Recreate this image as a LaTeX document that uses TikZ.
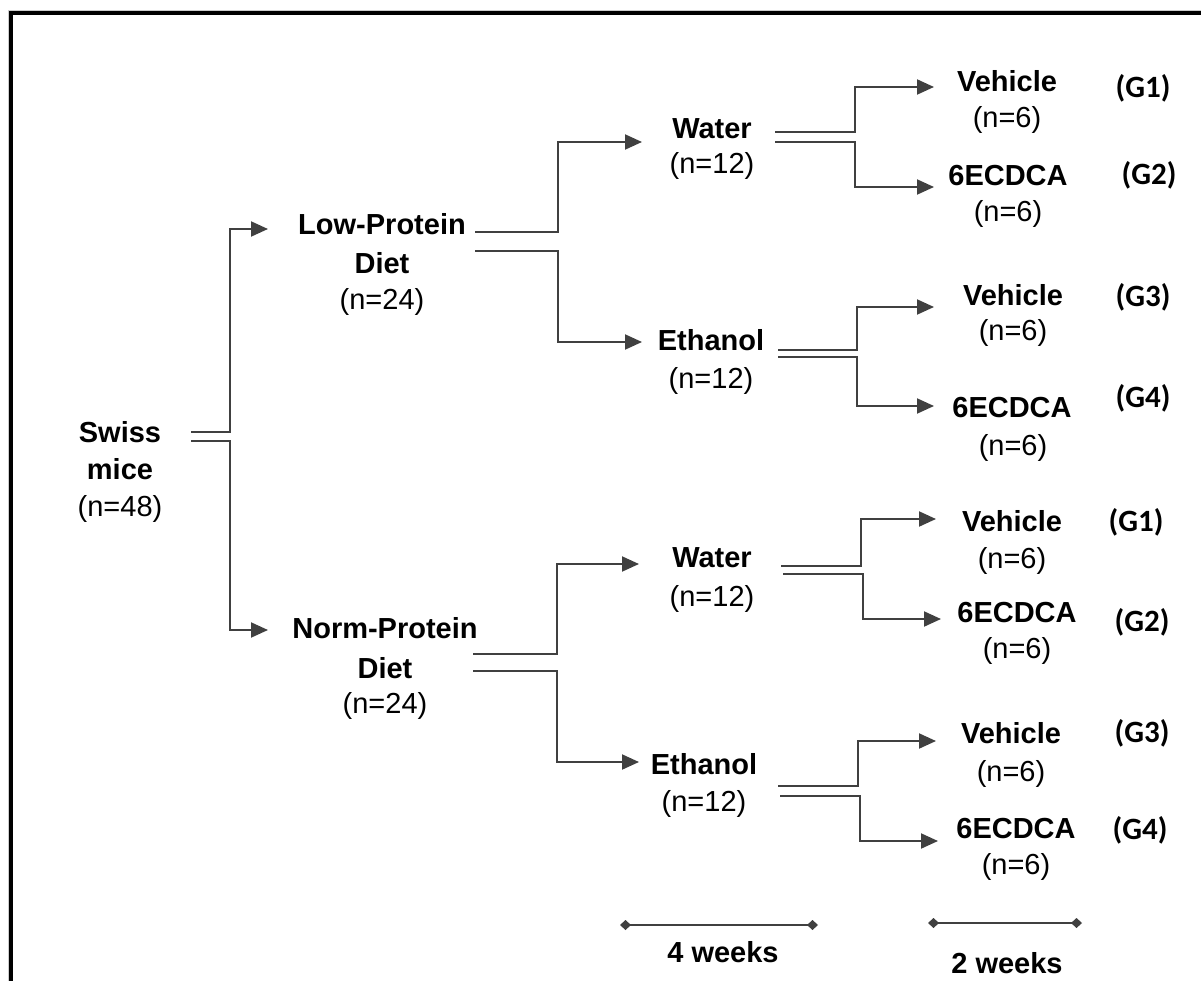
\documentclass[tikz,border=0pt]{standalone}
\usepackage{fontspec}
\setmainfont{Liberation Sans}
\newfontfamily\gfont{Carlito}
\usetikzlibrary{arrows.meta}
\definecolor{linegray}{HTML}{404040}
\begin{document}
\begin{tikzpicture}[x=1pt,y=-1pt,
 lbl/.style={font=\bfseries\fontsize{29}{34}\selectfont, anchor=base, inner sep=0pt},
 cnt/.style={font=\fontsize{29}{34}\selectfont, anchor=base, inner sep=0pt},
 grp/.style={font=\gfont\bfseries\fontsize{31}{36}\selectfont, anchor=base, inner sep=0pt},
 conn/.style={draw=linegray, line width=2pt},
 arr/.style={conn, -{Triangle[length=17pt,width=15pt]}},
 scalebar/.style={draw=linegray, line width=2pt, {Diamond[length=11pt,width=10pt]}-{Diamond[length=11pt,width=10pt]}}]
\useasboundingbox (0,0) rectangle (1201,981);
% frame
\draw[gray!40, line width=1pt] (8.5,981) -- (8.5,10.5) -- (1201,10.5);
\draw[line width=4pt] (11.3,981) -- (11.3,13) -- (1201,13);

% root
\node[lbl] (sw1) at (120,442) {Swiss};
\node[lbl] (sw2) at (120,479) {mice};
\node[cnt] (swn) at (120,516) {(n=48)};

% diets
\node[lbl] (lp1) at (382,235) {Low-Protein};
\node[lbl] (lp2) at (382,274) {Diet};
\node[cnt] (lpn) at (382,309) {(n=24)};
\node[lbl] (np1) at (385,638) {Norm-Protein};
\node[lbl] (np2) at (385,678) {Diet};
\node[cnt] (npn) at (385,713) {(n=24)};

% drinks
\node[lbl] (w1) at (712,139) {Water};
\node[cnt] (w1n) at (712,174) {(n=12)};
\node[lbl] (e1) at (711,350) {Ethanol};
\node[cnt] (e1n) at (711,388) {(n=12)};
\node[lbl] (w2) at (712,567) {Water};
\node[cnt] (w2n) at (712,606) {(n=12)};
\node[lbl] (e2) at (704,774) {Ethanol};
\node[cnt] (e2n) at (704,811) {(n=12)};

% treatments LP-water
\node[lbl] (v1) at (1007,92) {Vehicle};
\node[cnt] (v1n) at (1007,128) {(n=6)};
\node[lbl] (c1) at (1008,186) {6ECDCA};
\node[cnt] (c1n) at (1008,222) {(n=6)};
\node[grp] (g1a) at (1143,98) {(G1)};
\node[grp] (g2a) at (1149,185) {(G2)};
% LP-ethanol
\node[lbl] (v2) at (1013,306) {Vehicle};
\node[cnt] (v2n) at (1013,341) {(n=6)};
\node[lbl] (c2) at (1012,417) {6ECDCA};
\node[cnt] (c2n) at (1013,455) {(n=6)};
\node[grp] (g3a) at (1143,307) {(G3)};
\node[grp] (g4a) at (1143,407) {(G4)};
% NP-water
\node[lbl] (v3) at (1012,531) {Vehicle};
\node[cnt] (v3n) at (1012,568) {(n=6)};
\node[lbl] (c3) at (1017,622) {6ECDCA};
\node[cnt] (c3n) at (1017,658) {(n=6)};
\node[grp] (g1b) at (1136,531) {(G1)};
\node[grp] (g2b) at (1142,631) {(G2)};
% NP-ethanol
\node[lbl] (v4) at (1011,743) {Vehicle};
\node[cnt] (v4n) at (1011,781) {(n=6)};
\node[lbl] (c4) at (1016,838) {6ECDCA};
\node[cnt] (c4n) at (1016,874) {(n=6)};
\node[grp] (g3b) at (1142,742) {(G3)};
\node[grp] (g4b) at (1140,839) {(G4)};

% connector coordinates
\coordinate (swU) at (191,432); \coordinate (swL) at (191,441);
\coordinate (lpT) at (268,229); \coordinate (npT) at (268,630);
\coordinate (lpU) at (475,232); \coordinate (lpL) at (475,251);
\coordinate (w1T) at (642,142); \coordinate (e1T) at (642,342);
\coordinate (npU) at (473,654); \coordinate (npL) at (473,671);
\coordinate (w2T) at (639,564); \coordinate (e2T) at (639,762);
\coordinate (w1U) at (775,132); \coordinate (w1L) at (775,142);
\coordinate (v1T) at (934,87); \coordinate (c1T) at (934,187);
\coordinate (e1U) at (778,350); \coordinate (e1L) at (778,357);
\coordinate (v2T) at (934,307); \coordinate (c2T) at (934,406);
\coordinate (w2U) at (781,566); \coordinate (w2L) at (783,574);
\coordinate (v3T) at (936,519); \coordinate (c3T) at (941,619);
\coordinate (e2U) at (778,786); \coordinate (e2L) at (780,796);
\coordinate (v4T) at (936,741); \coordinate (c4T) at (938,841);

\draw[arr] (swU) -- ++(39,0) |- (lpT);
\draw[arr] (swL) -- ++(39,0) |- (npT);
\draw[arr] (lpU) -- ++(83,0) |- (w1T);
\draw[arr] (lpL) -- ++(83,0) |- (e1T);
\draw[arr] (npU) -- ++(84,0) |- (w2T);
\draw[arr] (npL) -- ++(84,0) |- (e2T);
\draw[arr] (w1U) -- ++(80,0) |- (v1T);
\draw[arr] (w1L) -- ++(80,0) |- (c1T);
\draw[arr] (e1U) -- ++(79,0) |- (v2T);
\draw[arr] (e1L) -- ++(79,0) |- (c2T);
\draw[arr] (w2U) -- ++(80,0) |- (v3T);
\draw[arr] (w2L) -- ++(80,0) |- (c3T);
\draw[arr] (e2U) -- ++(80,0) |- (v4T);
\draw[arr] (e2L) -- ++(80,0) |- (c4T);

% time scale bars
\coordinate (b1a) at (620,925); \coordinate (b1b) at (818,925);
\coordinate (b2a) at (928,923); \coordinate (b2b) at (1082,923);
\draw[scalebar] (b1a) -- (b1b);
\draw[scalebar] (b2a) -- (b2b);
\node[lbl] (wk4) at (723,962) {4 weeks};
\node[lbl] (wk2) at (1007,973) {2 weeks};
\end{tikzpicture}
\end{document}
